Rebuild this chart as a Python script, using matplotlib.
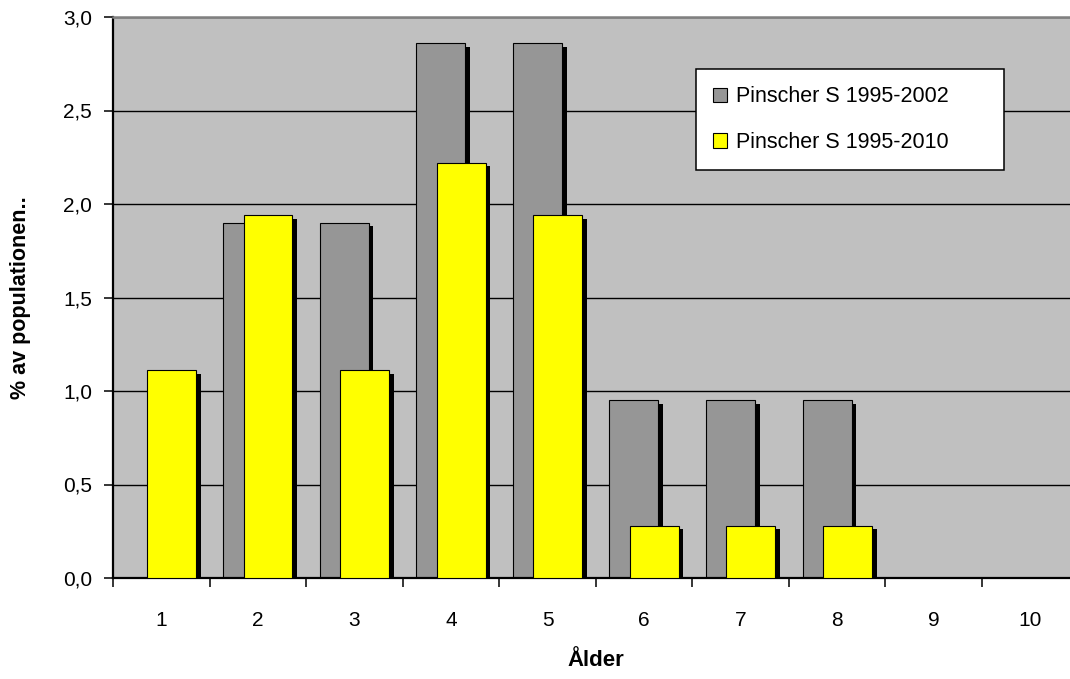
import matplotlib
matplotlib.use("Agg")
from matplotlib import pyplot as plt
import matplotlib.patheffects as pe
import numpy as np

# data (percent of population per age)
alder = [1, 2, 3, 4, 5, 6, 7, 8, 9, 10]
pinscher_2002 = [0, 1.90, 1.90, 2.86, 2.86, 0.95, 0.95, 0.95, 0, 0]
pinscher_2010 = [1.11, 1.94, 1.11, 2.22, 1.94, 0.28, 0.28, 0.28, 0, 0]
serie_namn = ["Pinscher S 1995-2002", "Pinscher S 1995-2010"]
y_ticks = [0, 0.5, 1.0, 1.5, 2.0, 2.5, 3.0]

plt.rcParams["font.family"] = ["Liberation Sans", "DejaVu Sans"]

fig = plt.figure(figsize=(10.7, 6.79), dpi=100)
ax = fig.add_axes([113 / 1070, 101 / 679, 965.6 / 1070, 561 / 679])
ax.set_facecolor("#C0C0C0")

x = np.array(alder)
bredd = 0.507
skugga = [pe.SimplePatchShadow(offset=(3.4, -2.4), shadow_rgbFace="black", alpha=1.0), pe.Normal()]

b1 = ax.bar(x - 0.105, pinscher_2002, width=bredd, color="#969696", edgecolor="black",
            linewidth=0.8, label=serie_namn[0], zorder=2)
b2 = ax.bar(x + 0.105, pinscher_2010, width=bredd, color="#FFFF00", edgecolor="black",
            linewidth=0.8, label=serie_namn[1], zorder=3)
for bar in list(b1) + list(b2):
    bar.set_path_effects(skugga)

ax.set_xlim(0.5, 10.5)
ax.set_ylim(0, 3.0)

# grid lines
ax.set_yticks(y_ticks)
ax.set_yticklabels([f"{v:.1f}".replace(".", ",") for v in y_ticks])
ax.yaxis.grid(True, color="black", linewidth=1.0)
ax.set_axisbelow(True)

# category borders as ticks, labels in the middle
ax.set_xticks(np.arange(0.5, 10.6, 1.0))
ax.set_xticklabels([])
ax.set_xticks(x, minor=True)
ax.set_xticklabels([str(a) for a in alder], minor=True)
ax.tick_params(axis="x", which="minor", length=0, pad=24, labelsize=15)
ax.tick_params(axis="x", which="major", length=6.5, width=1.1, direction="out")
ax.tick_params(axis="y", length=6.5, width=1.1, direction="out", pad=8.5, labelsize=15)

ax.spines["left"].set_linewidth(1.6)
ax.spines["bottom"].set_linewidth(1.6)
ax.spines["top"].set_color("#808080")
ax.spines["top"].set_linewidth(1.8)
ax.spines["right"].set_visible(False)

ax.set_xlabel("Ålder", fontsize=16, fontweight="bold", labelpad=14)
ax.set_ylabel("% av populationen..", fontsize=15.5, fontweight="bold")
ax.yaxis.set_label_coords(-0.085, 0.5)

leg = ax.legend(loc="upper left", bbox_to_anchor=(0.6038, 0.907, 0.319, 0.0),
                mode="expand", borderaxespad=0, fontsize=15.5,
                frameon=True, fancybox=False, edgecolor="black", framealpha=1,
                handlelength=0.65, handleheight=0.65, handletextpad=0.4,
                borderpad=0.8, labelspacing=1.15)
leg.get_frame().set_linewidth(1.1)
for h in leg.legend_handles:
    h.set_path_effects([])

plt.savefig("out.png", dpi=100)
